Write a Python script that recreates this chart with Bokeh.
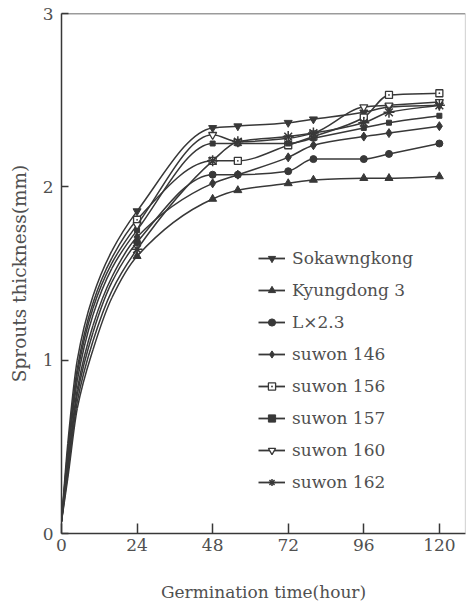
import numpy as np
from bokeh.plotting import figure
from bokeh.models import ColumnDataSource, Legend, LegendItem, Range1d, FixedTicker, Span
from bokeh.embed import file_html
from bokeh.resources import INLINE

# ---- data ----
hours = [24, 48, 56, 72, 80, 96, 104, 120]          # measured times (markers)
curve_hours = [0, 2, 5, 10, 16]
x_ticks = [0, 24, 48, 72, 96, 120]
y_ticks = [0, 1, 2, 3]

sokawngkong = [1.86, 2.34, 2.35, 2.37, 2.39, 2.43, 2.46, 2.47]
kyungdong3 = [1.60, 1.93, 1.98, 2.02, 2.04, 2.05, 2.05, 2.06]
lx23 = [1.68, 2.07, 2.07, 2.09, 2.16, 2.16, 2.19, 2.25]
suwon146 = [1.71, 2.02, 2.07, 2.17, 2.24, 2.29, 2.31, 2.35]
suwon156 = [1.81, 2.15, 2.15, 2.24, 2.29, 2.40, 2.53, 2.54]
suwon157 = [1.75, 2.25, 2.25, 2.25, 2.28, 2.34, 2.37, 2.41]
suwon160 = [1.78, 2.30, 2.26, 2.28, 2.31, 2.46, 2.47, 2.49]
suwon162 = [1.64, 2.15, 2.26, 2.29, 2.31, 2.37, 2.43, 2.47]

sokawngkong_early = [0.07, 0.52, 1.00, 1.37, 1.63]
kyungdong3_early = [0.07, 0.32, 0.72, 1.06, 1.36]
lx23_early = [0.07, 0.38, 0.80, 1.16, 1.45]
suwon146_early = [0.07, 0.40, 0.83, 1.20, 1.48]
suwon156_early = [0.07, 0.48, 0.95, 1.33, 1.59]
suwon157_early = [0.07, 0.44, 0.88, 1.26, 1.53]
suwon160_early = [0.07, 0.46, 0.92, 1.30, 1.56]
suwon162_early = [0.07, 0.35, 0.76, 1.11, 1.40]

names = ["Sokawngkong", "Kyungdong 3", "L\u00d72.3", "suwon 146",
         "suwon 156", "suwon 157", "suwon 160", "suwon 162"]
series = [sokawngkong, kyungdong3, lx23, suwon146, suwon156, suwon157, suwon160, suwon162]
early = [sokawngkong_early, kyungdong3_early, lx23_early, suwon146_early,
         suwon156_early, suwon157_early, suwon160_early, suwon162_early]

INK = "#383838"
TXT = "#505050"
FONT = "DejaVu Serif"

styles = [
    dict(marker="inverted_triangle", size=8, fill_color=INK, line_width=1),
    dict(marker="triangle", size=8, fill_color=INK, line_width=1),
    dict(marker="circle", size=7, fill_color=INK, line_width=1),
    dict(marker="diamond", size=9, fill_color=INK, line_width=1),
    dict(marker="square_dot", size=7, fill_color="white", line_width=1.3),
    dict(marker="square", size=5, fill_color=INK, line_width=1),
    dict(marker="inverted_triangle", size=8, fill_color="white", line_width=1.3),
    dict(marker="asterisk", size=11, fill_color=INK, line_width=1.5),
]


def smooth_segments(t, y):
    """Monotone cubic (Fritsch-Carlson) segments as Bezier control points."""
    t = np.asarray(t, float)
    y = np.asarray(y, float)
    h = np.diff(t)
    d = np.diff(y) / h
    n = len(t)
    m = np.zeros(n)
    m[0] = d[0]
    m[-1] = d[-1]
    for i in range(1, n - 1):
        if d[i - 1] * d[i] <= 0:
            m[i] = 0.0
        else:
            w1 = 2 * h[i] + h[i - 1]
            w2 = h[i] + 2 * h[i - 1]
            m[i] = (w1 + w2) / (w1 / d[i - 1] + w2 / d[i])
    return dict(x0=t[:-1], y0=y[:-1], x1=t[1:], y1=y[1:],
                cx0=t[:-1] + h / 3, cy0=y[:-1] + m[:-1] * h / 3,
                cx1=t[1:] - h / 3, cy1=y[1:] - m[1:] * h / 3)


X_END = 128.3
p = figure(width=467, height=607, output_backend="svg", toolbar_location=None,
           x_range=Range1d(0, X_END), y_range=Range1d(0, 3),
           min_border_left=61, min_border_right=2, min_border_top=13, min_border_bottom=74,
           background_fill_color="white", border_fill_color="white")
p.outline_line_color = None
p.xgrid.visible = False
p.ygrid.visible = False

items = []
for name, vals, ev, st in zip(names, series, early, styles):
    tt = list(curve_hours) + list(hours)
    yy = list(ev) + list(vals)
    seg = ColumnDataSource(smooth_segments(tt, yy))
    p.bezier(x0="x0", y0="y0", x1="x1", y1="y1", cx0="cx0", cy0="cy0",
             cx1="cx1", cy1="cy1", source=seg, line_color=INK, line_width=1.5)
    # legend-only line sample (no visible data in the plot)
    leg_line = p.line(x=[float("nan")], y=[float("nan")], line_color=INK, line_width=1.8)
    sc = p.scatter(x=hours, y=vals, marker=st["marker"], size=st["size"],
                   fill_color=st["fill_color"], line_color=INK, line_width=st["line_width"])
    items.append(LegendItem(label=name, renderers=[leg_line, sc]))

legend = Legend(items=items, location=(197, 41))
legend.label_text_font = FONT
legend.label_text_font_size = "17px"
legend.label_text_color = TXT
legend.glyph_width = 27
legend.glyph_height = 18
legend.label_height = 20
legend.spacing = 12
legend.padding = 0
legend.margin = 0
legend.label_standoff = 7
legend.border_line_color = None
legend.background_fill_alpha = 0
p.add_layout(legend)

# frame: top and (faint) right border
p.add_layout(Span(location=3, dimension="width", line_color=INK, line_width=1.5))
p.add_layout(Span(location=X_END, dimension="height", line_color="#b0b0b0", line_width=1.2))

for ax in (p.xaxis[0], p.yaxis[0]):
    ax.axis_line_color = INK
    ax.axis_line_width = 1.5
    ax.major_tick_line_color = INK
    ax.major_tick_line_width = 1.5
    ax.minor_tick_line_color = None
    ax.major_tick_out = 0
    ax.major_label_text_font = FONT
    ax.major_label_text_font_size = "17px"
    ax.major_label_text_color = TXT
    ax.axis_label_text_font = FONT
    ax.axis_label_text_font_style = "normal"
    ax.axis_label_text_color = TXT

p.xaxis.axis_label_text_font_size = "17px"
p.yaxis.axis_label_text_font_size = "18.5px"
p.xaxis.ticker = FixedTicker(ticks=x_ticks)
p.yaxis.ticker = FixedTicker(ticks=y_ticks)
p.xaxis.major_tick_in = 10
p.yaxis.major_tick_in = 7
p.xaxis.major_label_standoff = 5
p.yaxis.major_label_standoff = 8
p.xaxis.axis_label = "Germination time(hour)"
p.yaxis.axis_label = "Sprouts thickness(mm)"
p.xaxis.axis_label_standoff = 28
p.yaxis.axis_label_standoff = 10

open("out.html", "w").write(file_html(p, INLINE))
